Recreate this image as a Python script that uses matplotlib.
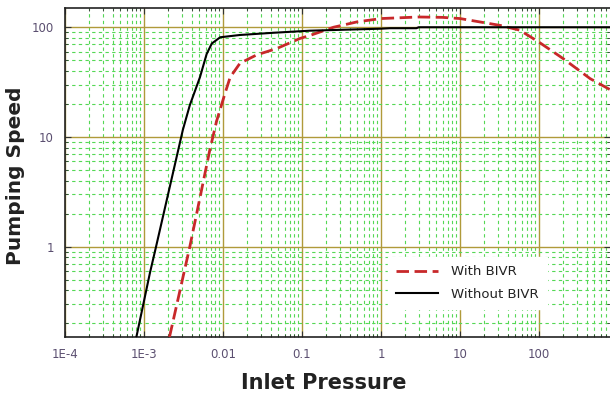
import numpy as np
import matplotlib
matplotlib.use('Agg')
import matplotlib.pyplot as plt
from matplotlib.ticker import LogLocator, FixedLocator, FixedFormatter, NullFormatter

# Curves (inlet pressure, pumping speed)
without_p = [8.0e-4, 1.19e-3, 1.42e-3, 3.1e-3, 3.8e-3, 5.1e-3, 6.2e-3, 7.2e-3,
             9.2e-3, 0.0164, 0.043, 0.125, 1.0, 1.3, 2.8, 3.0, 790]
without_s = [0.15, 0.58, 1.0, 11.6, 19.5, 35, 57, 71, 81, 85, 89, 93, 97, 98,
             98, 100, 100]

with_p = [2.1e-3, 3.8e-3, 6.8e-3, 8.3e-3, 0.0106, 0.0123, 0.0164, 0.0267, 0.048,
          0.094, 0.125, 0.25, 0.5, 1.0, 3.0, 6.0, 10, 32, 57, 100, 200, 443, 790]
with_s = [0.15, 1.0, 7.6, 14, 25, 35, 47, 56, 64, 79, 84, 100, 112, 120, 124,
          123, 120, 104, 94, 73, 52, 34, 27]

x_ticks = [1e-4, 1e-3, 1e-2, 1e-1, 1, 10, 100]
x_labels = ['1E-4', '1E-3', '0.01', '0.1', '1', '10', '100']
y_ticks = [1, 10, 100]
y_labels = ['1', '10', '100']

fig = plt.figure(figsize=(6.1, 3.96), dpi=100)
ax = fig.add_axes([0.1066, 0.149, 0.8934, 0.831])

ax.set_xscale('log')
ax.set_yscale('log')
ax.set_xlim(1e-4, 790)
ax.set_ylim(0.15, 150)

# grid: solid olive majors, dashed green minors
ax.grid(True, which='minor', color='#55d855', linestyle=(0, (3, 3)), linewidth=0.8)
ax.grid(True, which='major', color='#b09a3a', linestyle='-', linewidth=1.0)
ax.set_axisbelow(True)

ax.plot(with_p, with_s, color='#c8282a', linewidth=2.0, dashes=(4.5, 2),
        label='With BIVR', zorder=3)
ax.plot(without_p, without_s, color='black', linewidth=1.5,
        label='Without BIVR', zorder=3)

ax.xaxis.set_major_locator(FixedLocator(x_ticks))
ax.xaxis.set_major_formatter(FixedFormatter(x_labels))
ax.xaxis.set_minor_locator(LogLocator(base=10, subs=np.arange(2, 10), numticks=20))
ax.xaxis.set_minor_formatter(NullFormatter())
ax.yaxis.set_major_locator(FixedLocator(y_ticks))
ax.yaxis.set_major_formatter(FixedFormatter(y_labels))
ax.yaxis.set_minor_locator(LogLocator(base=10, subs=np.arange(2, 10), numticks=20))
ax.yaxis.set_minor_formatter(NullFormatter())

ax.tick_params(which='both', direction='in', top=True, right=True,
               labelcolor='#5b4f70', labelsize=8.5, color='#333333')
ax.tick_params(which='major', length=4, width=0.8, pad=8)
ax.tick_params(which='minor', length=2.5, width=0.6)

ax.spines['right'].set_visible(False)
for s in ['left', 'top', 'bottom']:
    ax.spines[s].set_color('#222222')
    ax.spines[s].set_linewidth(1.2)

ax.set_xlabel('Inlet Pressure', fontsize=15, fontweight='bold', color='#222222')
ax.set_ylabel('Pumping Speed', fontsize=14.5, fontweight='bold', color='#222222')
ax.xaxis.set_label_coords(0.475, -0.108)
ax.yaxis.set_label_coords(-0.073, 0.49)

leg = ax.legend(loc='lower left', bbox_to_anchor=(0.58, 0.065), fontsize=9.5,
                frameon=True, fancybox=False, handlelength=3.2, handletextpad=1.0,
                labelspacing=0.75, borderpad=0.6)
leg.get_frame().set_edgecolor('white')
leg.get_frame().set_facecolor('white')
leg.get_frame().set_alpha(1.0)
for t in leg.get_texts():
    t.set_color('#222222')

fig.savefig('out.png', dpi=100)
